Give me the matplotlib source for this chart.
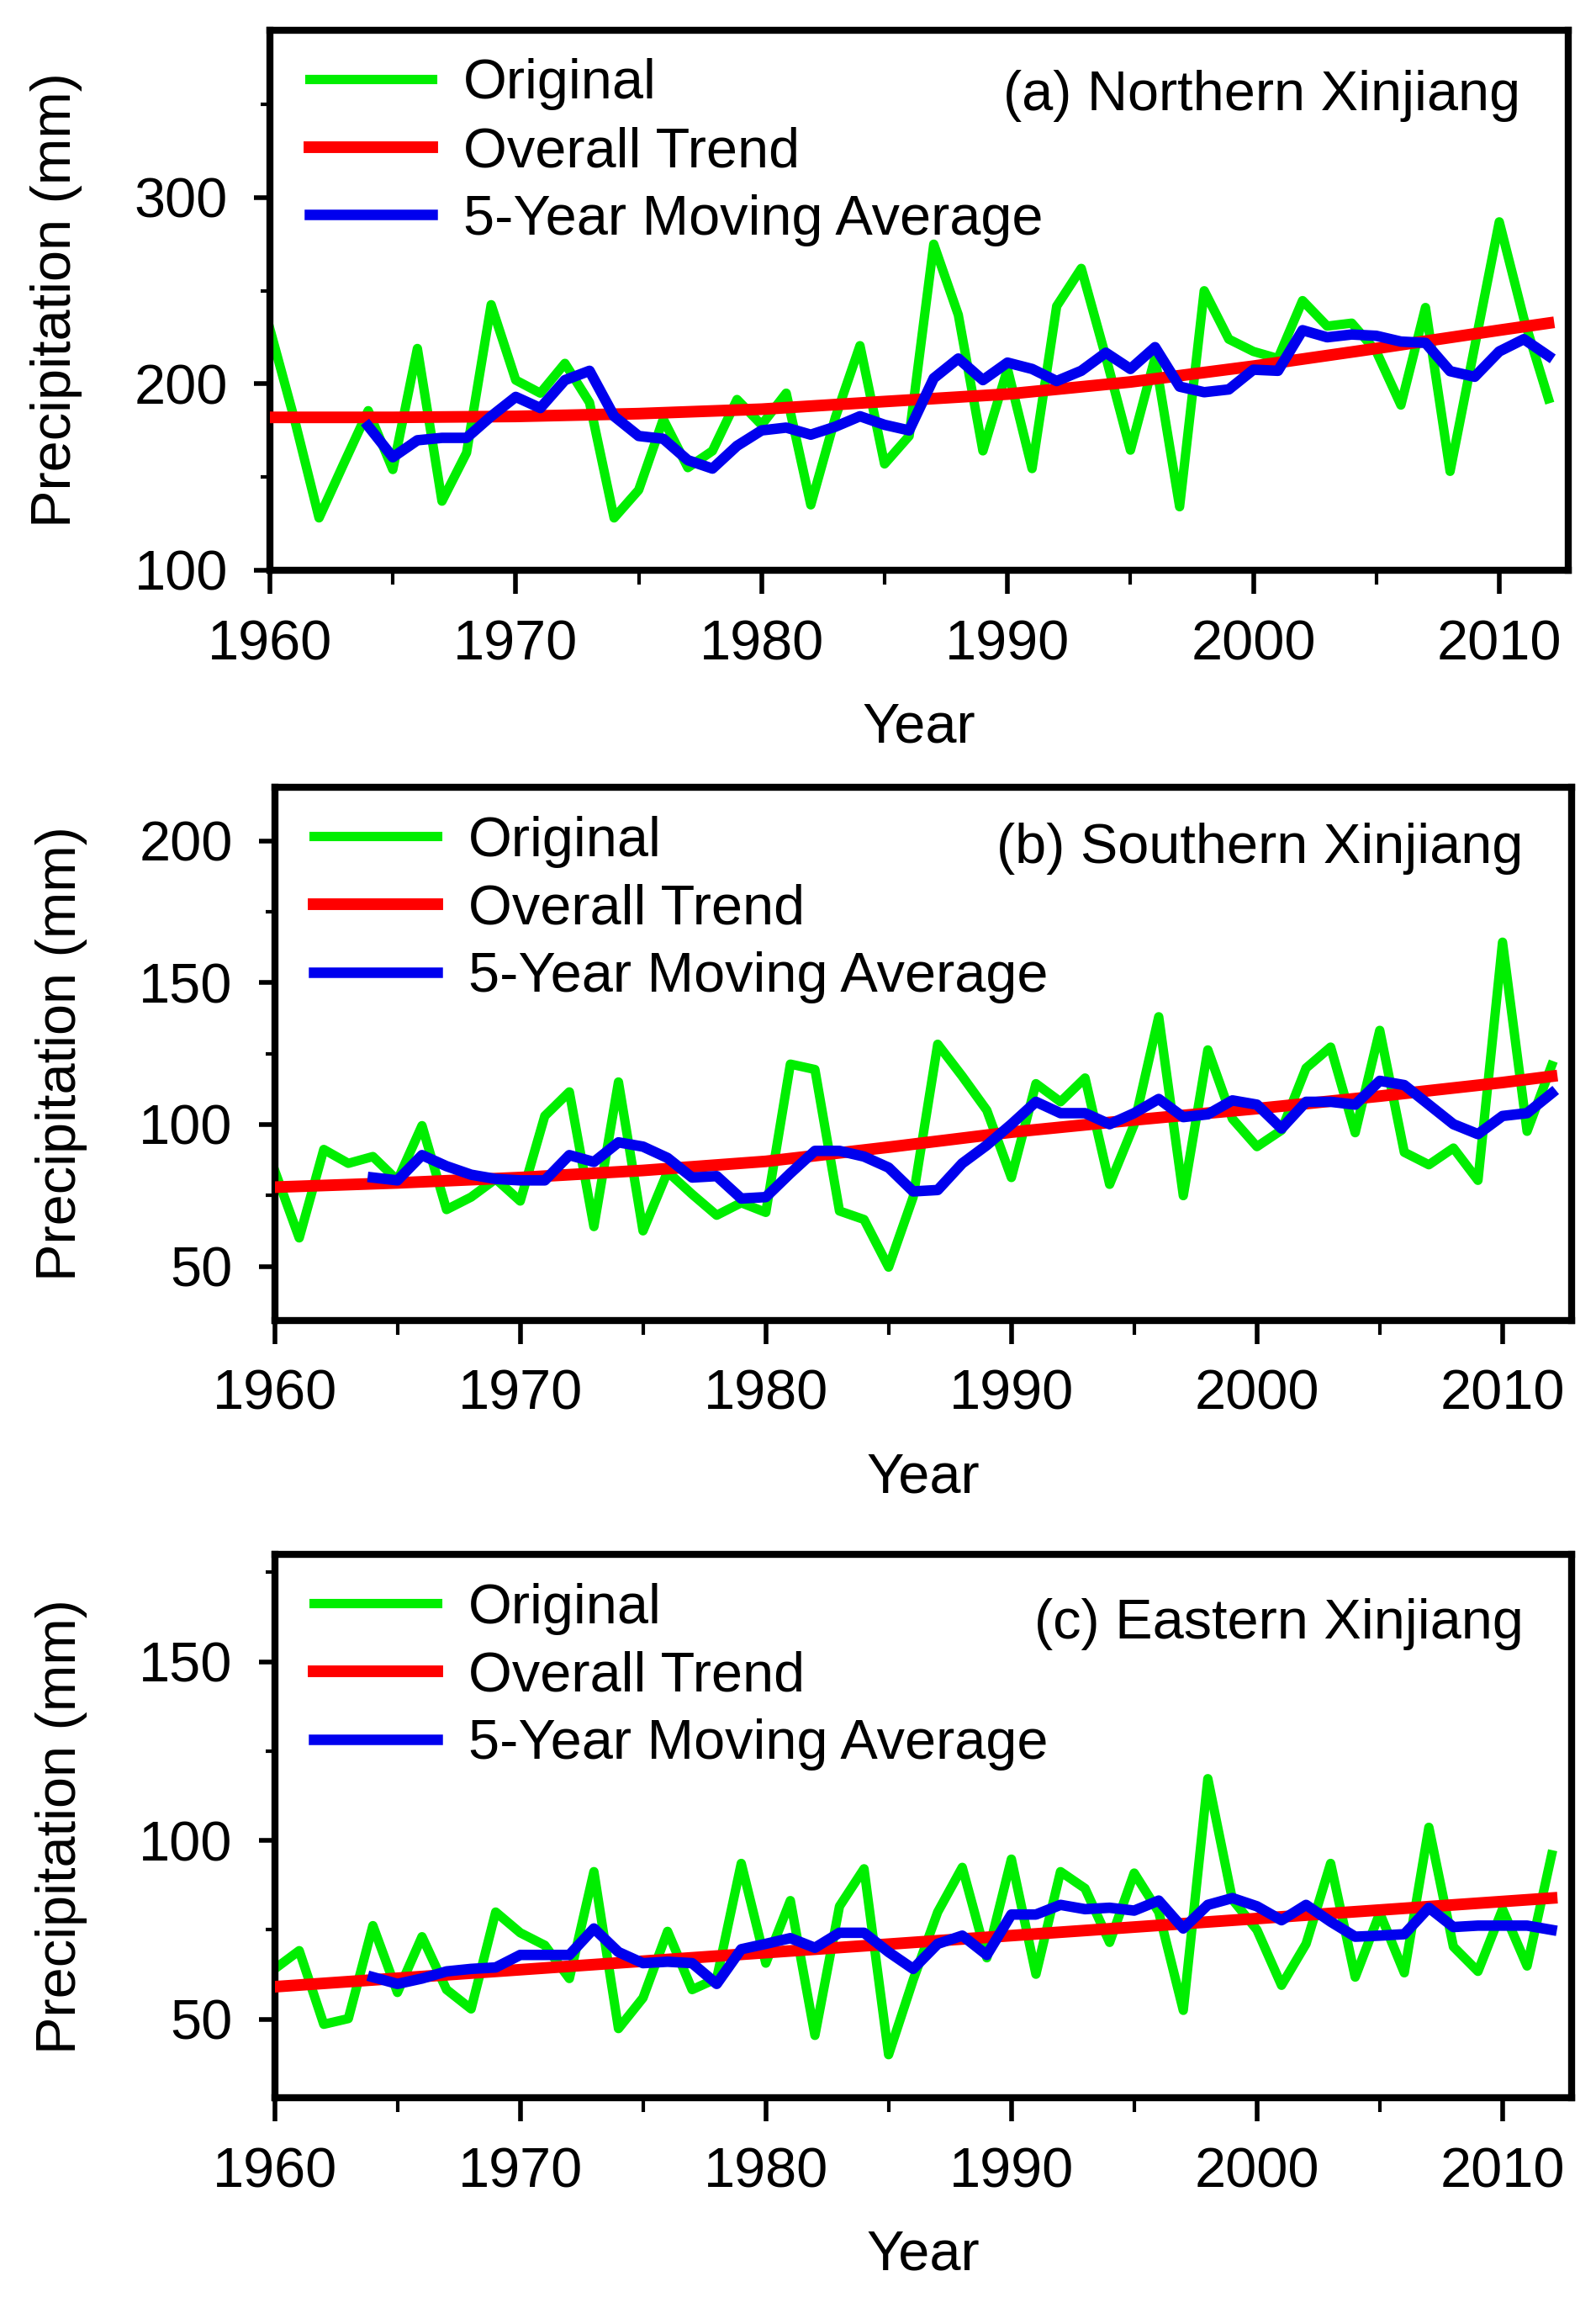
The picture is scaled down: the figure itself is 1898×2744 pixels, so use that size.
import matplotlib
matplotlib.use("Agg")
import matplotlib.pyplot as plt
from matplotlib.ticker import MultipleLocator

plt.rcParams['font.family'] = ['Liberation Sans', 'DejaVu Sans']

years = list(range(1960, 2013))
ma_years = list(range(1964, 2013))

# (a) Northern Xinjiang
north_orig = [229.5, 181, 128, 157, 185.6, 154, 219, 137, 163, 242.5,
              202, 195, 211, 190, 128, 143, 181, 155, 164, 191.6,
              178, 195, 135, 182, 220.5, 157, 172, 275, 237, 164,
              208, 154.5, 241.7, 262, 214.4, 164.4, 214, 134, 250, 224,
              217.4, 213.6, 244.7, 231, 232.6, 217.4, 188.6, 241, 153, 220,
              287, 235, 192]
north_ma = [177.3, 160.6, 169.7, 171, 171, 182.6, 193, 187, 202, 207,
            182.6, 172, 170.5, 159, 154.5, 166.7, 175, 176.5, 172.7, 177,
            182.6, 178, 175, 203, 213.6, 202, 211.4, 208, 201.5, 207,
            216.7, 208, 219.7, 198.5, 195.5, 197, 207.6, 207, 228.8, 225,
            226.5, 225.8, 222.7, 222, 206.8, 203.8, 217.4, 224, 215]
north_trend_years = [1960, 1965, 1970, 1975, 1980, 1985, 1990, 1995, 2000, 2005, 2010, 2012]
north_trend = [182, 182, 182.5, 184, 186.4, 190.5, 194.5, 201, 209.5, 219, 228.8, 232.6]

# (b) Southern Xinjiang
south_orig = [83.8, 60, 91.2, 86.3, 88.7, 80.3, 99.6, 70, 74.4, 80.8,
              73, 103, 111.5, 64, 115, 62.5, 83.3, 75.4, 68, 72.4,
              69, 121.3, 119.4, 69.5, 66.5, 49.7, 74.4, 128.3, 117, 105,
              81.3, 114.4, 108, 116.4, 78.9, 100, 138, 74.9, 126.3, 102,
              92.2, 98, 119.9, 127.3, 97.1, 133.2, 90.2, 85.8, 91.7, 80.3,
              164.3, 97.6, 120.8]
south_ma = [81.3, 80.3, 89.2, 85.3, 82.3, 80.8, 80.3, 80.3, 89.2, 86.8,
            93.7, 92.2, 88.2, 81.3, 81.8, 73.9, 74.4, 82.8, 90.7, 90.7,
            88.7, 84.8, 76.4, 76.9, 86.3, 92.7, 100.1, 108, 104, 104,
            100.1, 104, 109, 102.6, 103.6, 108.5, 107, 98.6, 108, 108,
            107, 115.4, 113.9, 107, 100.1, 96.6, 103, 104, 111]
south_trend_years = [1960, 1965, 1970, 1975, 1980, 1985, 1990, 1995, 2000, 2005, 2010, 2012]
south_trend = [77.9, 79.4, 81.3, 83.8, 87.0, 92.0, 97.3, 101.6, 105.6, 110, 114.8, 117]

# (c) Eastern Xinjiang
east_orig = [64.1, 69.2, 48.6, 50.2, 76.2, 57.5, 73.1, 58.3, 52.9, 80,
             74.2, 70.7, 61.4, 91.3, 47.4, 56, 74.6, 58.3, 61.4, 93.6,
             65.7, 83.2, 45.5, 81.6, 92.1, 40.1, 61, 80, 92.5, 67.2,
             94.8, 62.6, 91.3, 86.6, 71.5, 90.9, 80, 52.5, 117.3, 83.5,
             75, 59.5, 71.1, 93.6, 61.8, 79.7, 63, 103.7, 70.3, 63.4,
             80.8, 64.9, 96]
east_ma = [61.8, 59.9, 61.4, 63.4, 64.1, 64.5, 68, 68, 68, 75.4,
           68.8, 65.7, 66.1, 65.7, 59.9, 69.6, 71.1, 72.7, 70, 74.2,
           74.2, 68.8, 64.1, 71.1, 73.4, 68, 79.3, 79.3, 82, 80.8,
           81.2, 80.4, 83.2, 75.4, 82, 83.9, 81.6, 77.7, 82, 77.3,
           73.1, 73.4, 73.8, 81.2, 75.8, 76.2, 76.2, 76.2, 75]
east_trend_years = [1960, 1986, 2012]
east_trend = [59.1, 71.5, 83.9]

panels = [
    dict(orig=north_orig, ma=north_ma, ty=north_trend_years, tv=north_trend,
         title="(a) Northern Xinjiang", ylim=(100, 390), major=100, minor=50,
         rect=[0.169, 0.753, 0.813, 0.234], ty_pos=0.878),
    dict(orig=south_orig, ma=south_ma, ty=south_trend_years, tv=south_trend,
         title="(b) Southern Xinjiang", ylim=(31, 219), major=50, minor=25,
         rect=[0.172, 0.428, 0.812, 0.231], ty_pos=0.885),
    dict(orig=east_orig, ma=east_ma, ty=east_trend_years, tv=east_trend,
         title="(c) Eastern Xinjiang", ylim=(28, 180), major=50, minor=25,
         rect=[0.172, 0.091, 0.812, 0.2355], ty_pos=0.872),
]

FS = 48
fig = plt.figure(figsize=(18.99, 27.44), dpi=100)
for p in panels:
    ax = fig.add_axes(p['rect'])
    ax.plot(years, p['orig'], color='#00ee00', lw=8, label='Original', zorder=2)
    ax.plot(p['ty'], p['tv'], color='#ff0000', lw=10, label='Overall Trend', zorder=3)
    ax.plot(ma_years, p['ma'], color='#0000ee', lw=9, label='5-Year Moving Average', zorder=4)
    ax.set_xlim(1960, 2012.8)
    ax.set_ylim(*p['ylim'])
    ax.xaxis.set_major_locator(MultipleLocator(10))
    ax.xaxis.set_minor_locator(MultipleLocator(5))
    ax.yaxis.set_major_locator(MultipleLocator(p['major']))
    ax.yaxis.set_minor_locator(MultipleLocator(p['minor']))
    ax.tick_params(axis='x', which='major', direction='out', length=20, width=4,
                   labelsize=FS, pad=22)
    ax.tick_params(axis='x', which='minor', direction='out', length=12, width=3)
    ax.tick_params(axis='y', which='major', direction='out', length=14, width=4,
                   labelsize=FS, pad=22)
    ax.tick_params(axis='y', which='minor', direction='out', length=8, width=3)
    for s in ax.spines.values():
        s.set_linewidth(6)
        s.set_color('black')
    ax.set_xlabel('Year', fontsize=FS, labelpad=26)
    ax.set_ylabel('Precipitation (mm)', fontsize=FS, labelpad=44)
    ax.text(0.963, p['ty_pos'], p['title'], transform=ax.transAxes,
            ha='right', va='center', fontsize=FS)
    leg = ax.legend(loc='upper left', frameon=False, fontsize=FS,
                    handlelength=2.2, handletextpad=0.55, labelspacing=0.28,
                    borderaxespad=0.3, bbox_to_anchor=(0.0, 1.02))

fig.savefig('out.png', dpi=100)
